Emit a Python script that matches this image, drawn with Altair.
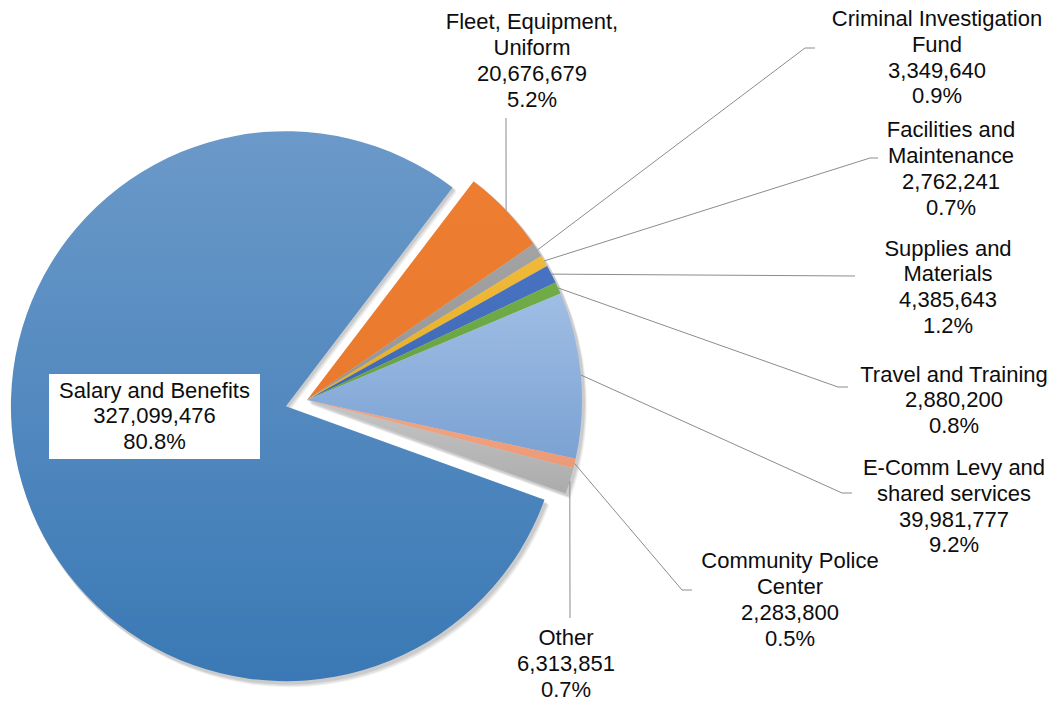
import math
import altair as alt
import pandas as pd

# ---------------- data ----------------
categories = [
    "Salary and Benefits",
    "Fleet, Equipment, Uniform",
    "Criminal Investigation Fund",
    "Facilities and Maintenance",
    "Supplies and Materials",
    "Travel and Training",
    "E-Comm Levy and shared services",
    "Community Police Center",
    "Other",
]
values = [327099476, 20676679, 3349640, 2762241, 4385643, 2880200, 39981777, 2283800, 6313851]
pct_text = ["80.8%", "5.2%", "0.9%", "0.7%", "1.2%", "0.8%", "9.2%", "0.5%", "0.7%"]
wrapped_names = [
    "Salary and Benefits",
    "Fleet, Equipment,\nUniform",
    "Criminal Investigation\nFund",
    "Facilities and\nMaintenance",
    "Supplies and\nMaterials",
    "Travel and Training",
    "E-Comm Levy and\nshared services",
    "Community Police\nCenter",
    "Other",
]
color_top = ["#6B99C9", "#ED7D31", "#A3A3A3", "#F0B93A", "#4873C2", "#70AD47", "#A0BEE5", "#F3A684", "#C6C6C6"]
color_bottom = ["#3A79B5", "#EA7A2E", "#959595", "#E8AE22", "#3F68B3", "#66A140", "#7BA2D3", "#EC9A76", "#ABABAB"]

# ---------------- layout ----------------
W, H = 1054, 701
R = 275
CX, CY = 307, 400
START_DEG = 109.9
EXPLODE = 22
FONT = "Liberation Sans"
FS = 22
LH = 25.8

label_x = [154.5, 532, 937, 951, 948, 954, 954, 790, 566]
label_y = [397.5, 29.3, 26.0, 137.3, 255.7, 381.7, 475.0, 568.3, 645.0]
leader_pts = [
    [],
    [(506, 118)],
    [(805, 48), (815, 48)],
    [(870, 158), (878, 158)],
    [(855, 276)],
    [(838, 387), (848, 387)],
    [(842, 493), (852, 493)],
    [(682, 590), (692, 590)],
    [(570, 618)],
]
salary_box = dict(x=49, x2=260, y=374, y2=459)

# ---------------- derived ----------------
total = sum(values)
n = len(values)
starts, ends = [], []
acc = 0
for v in values:
    starts.append(acc)
    acc += v
    ends.append(acc)


def ang(v):
    return math.radians(START_DEG) + 2 * math.pi * v / total


mid_ang = [(ang(s) + ang(e)) / 2 for s, e in zip(starts, ends)]
centers = []
for i in range(n):
    if i == 0:
        centers.append((CX + EXPLODE * math.sin(mid_ang[0]), CY - EXPLODE * math.cos(mid_ang[0])))
    else:
        centers.append((CX, CY))

df = pd.DataFrame({"category": categories, "value": values, "order": list(range(n))})
theta_scale = alt.Scale(domain=[0, total], range=[math.radians(START_DEG), math.radians(START_DEG) + 2 * math.pi])

base = (
    alt.Chart(df)
    .transform_window(cum="sum(value)", sort=[alt.SortField("order")], frame=[None, 0])
    .transform_calculate(start="datum.cum - datum.value")
)

layers = []
# soft shadow
for k, (dx, dy, op) in enumerate([(4, 5, 0.05), (3, 4, 0.07), (2, 2.5, 0.09)]):
    for i in range(n):
        cx, cy = centers[i]
        layers.append(
            base.transform_filter(alt.datum.order == i)
            .mark_arc(radius=R + 1, fill="#000000", opacity=op)
            .encode(
                theta=alt.Theta("start:Q", scale=theta_scale),
                theta2="cum:Q",
                x=alt.value(cx + dx),
                y=alt.value(cy + dy),
            )
        )

for i in range(n):
    cx, cy = centers[i]
    grad = alt.LinearGradient(
        gradient="linear",
        x1=0, x2=0, y1=0, y2=1,
        stops=[alt.GradientStop(color=color_top[i], offset=0), alt.GradientStop(color=color_bottom[i], offset=1)],
    )
    layers.append(
        base.transform_filter(alt.datum.order == i)
        .mark_arc(radius=R, fill=grad)
        .encode(
            theta=alt.Theta("start:Q", scale=theta_scale),
            theta2="cum:Q",
            x=alt.value(cx),
            y=alt.value(cy),
        )
    )

# white box behind salary label
box_df = pd.DataFrame([salary_box])
layers.append(
    alt.Chart(box_df).mark_rect(fill="white").encode(
        x=alt.X("x:Q", scale=None), x2="x2:Q", y=alt.Y("y:Q", scale=None), y2="y2:Q"
    )
)

# leader lines
rows = []
for i in range(1, n):
    sx = CX + R * math.sin(mid_ang[i])
    sy = CY - R * math.cos(mid_ang[i])
    pts = [(sx, sy)] + leader_pts[i]
    for j, (px, py) in enumerate(pts):
        rows.append({"category": categories[i], "idx": j, "x": px, "y": py})
lines_df = pd.DataFrame(rows)
layers.append(
    alt.Chart(lines_df).mark_line(color="#8C8C8C", strokeWidth=1).encode(
        x=alt.X("x:Q", scale=None),
        y=alt.Y("y:Q", scale=None),
        detail="category:N",
        order="idx:Q",
    )
)

# labels
lab_rows = []
for i in range(n):
    lab_rows.append({
        "text": wrapped_names[i] + "\n" + f"{values[i]:,}" + "\n" + pct_text[i],
        "x": label_x[i],
        "y": label_y[i],
    })
lab_df = pd.DataFrame(lab_rows)
layers.append(
    alt.Chart(lab_df).mark_text(
        font=FONT, fontSize=FS, color="#0D0D0D", align="center", baseline="alphabetic",
        lineBreak="\n", lineHeight=LH,
    ).encode(
        x=alt.X("x:Q", scale=None),
        y=alt.Y("y:Q", scale=None),
        text="text:N",
    )
)

chart = (
    alt.layer(*layers)
    .properties(width=W, height=H, autosize="none", padding=0, background="white")
    .configure_view(stroke=None)
)

chart.save("out.html", embed_options={"renderer": "svg", "actions": False})
